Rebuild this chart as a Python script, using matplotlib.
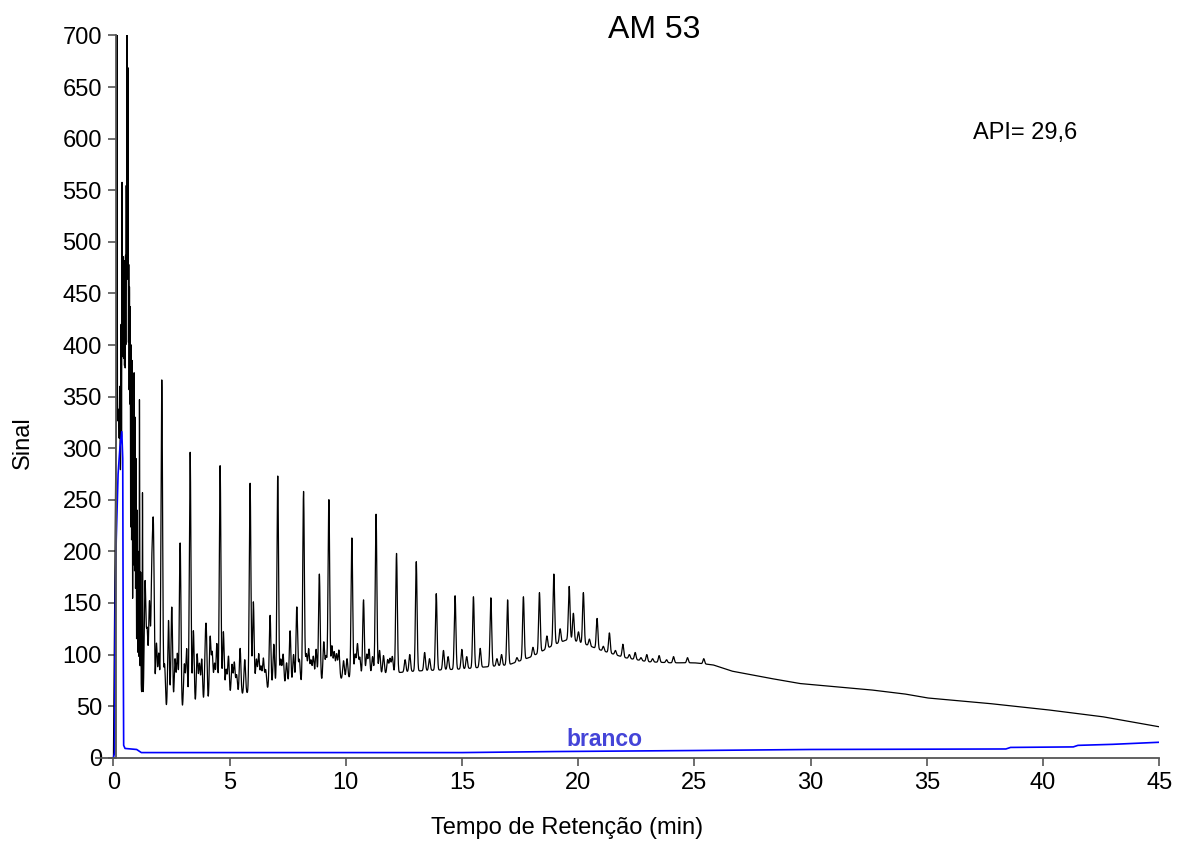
import numpy as np
import matplotlib
matplotlib.use('Agg')
import matplotlib.pyplot as plt

plt.rcParams['font.family'] = ['Liberation Sans', 'DejaVu Sans']

# baseline of the sample trace (min, signal)
base_t = [0.0, 0.04, 0.1, 0.2, 0.35, 0.5, 0.7, 0.9, 1.05, 1.3, 2.0, 3.0, 4.0, 5.0, 6.0, 7.0,
          8.0, 9.0, 10.0, 11.0, 12.0, 13.0, 14.0, 15.0, 16.0, 17.0, 18.0, 19.0, 19.6,
          20.3, 21.0, 22.0, 23.0, 24.0, 25.0, 25.8, 26.6, 28.0, 29.5, 31.0, 32.5, 34.0,
          35.0, 37.5, 40.0, 42.5, 45.0]
base_y = [0, 120, 300, 330, 250, 200, 160, 120, 90, 50, 45, 45, 50, 58, 64, 68,
          71, 74, 77, 80, 82, 84, 85, 86, 88, 90, 98, 110, 115,
          110, 104, 97, 93, 92, 92, 90, 84, 78, 72, 69, 66, 62,
          58, 53, 47, 40, 30]

# spikes of the solvent region
spike_t = [0.15, 0.22, 0.27, 0.33, 0.37, 0.40, 0.43, 0.46, 0.49, 0.52, 0.55, 0.58, 0.61,
           0.63, 0.66, 0.69, 0.72, 0.76, 0.80, 0.85, 0.89, 0.93, 0.97, 1.02, 1.07, 1.12,
           1.17, 1.25]
spike_y = [760, 337, 360, 420, 555, 470, 480, 476, 470, 480, 545, 760, 520,
           606, 470, 450, 434, 400, 385, 330, 373, 330, 290, 240, 200, 347,
           180, 256]

# n-alkane peaks
peak_t = [2.08, 3.30, 4.59, 5.88, 7.07, 8.18, 9.27, 10.26, 11.30, 12.18, 13.03, 13.89,
          14.70, 15.49, 16.24, 16.96, 17.64, 18.33, 18.95, 19.61, 20.22, 20.81, 21.34,
          21.92, 22.45, 22.95, 23.48, 24.10]
peak_y = [366, 296, 283, 266, 273, 258, 250, 213, 236, 198, 190, 159,
          157, 156, 155, 153, 156, 160, 178, 166, 160, 135, 121,
          110, 102, 100, 99, 98]

# smaller peaks between the alkanes
minor_t = [1.36, 1.45, 1.55, 1.65, 1.72, 1.85, 1.95, 2.2, 2.37, 2.51, 2.65, 2.75, 2.87,
           3.05, 3.15, 3.44, 3.6, 3.7, 3.8, 3.95, 4.0, 4.16, 4.25, 4.35, 4.45, 4.73,
           4.85, 4.95, 5.1, 5.2, 5.3, 5.45, 5.65, 6.02, 6.15, 6.25, 6.35, 6.45, 6.55,
           6.74, 6.9, 7.2, 7.3, 7.45, 7.6, 7.75, 7.89, 8.0, 8.3, 8.4, 8.5, 8.6, 8.72,
           8.86, 9.05, 9.15, 9.4, 9.5, 9.6, 9.7, 9.90, 10.05, 10.4, 10.5, 10.6, 10.76,
           10.9, 11.0, 11.15, 11.45, 11.62, 11.8, 11.9, 12.0, 12.55, 12.75, 13.39,
           13.6, 14.2, 14.4, 14.99, 15.2, 15.78, 16.5, 16.7, 17.36, 18.05, 18.65,
           19.22, 19.79, 20.01, 20.48, 21.08, 21.6, 22.2, 22.7, 23.2, 23.8, 24.7, 25.4]
minor_y = [169, 120, 149, 169, 212, 110, 100, 90, 133, 146, 95, 100, 208,
           90, 105, 123, 100, 90, 95, 95, 108, 116, 100, 90, 110, 122,
           85, 98, 90, 92, 80, 106, 95, 151, 95, 100, 88, 96, 85,
           138, 110, 95, 100, 92, 123, 100, 146, 95, 100, 105, 94, 98, 105,
           178, 112, 98, 108, 102, 100, 104, 94, 96, 100, 110, 97, 153,
           100, 105, 98, 104, 99, 95, 96, 98, 95, 100, 102,
           96, 104, 98, 105, 98, 106, 96, 100, 97, 107, 118,
           125, 140, 122, 115, 108, 104, 100, 97, 96, 95, 97, 96]

# blank run
blank_t = [0.0, 0.05, 0.07, 0.12, 0.2, 0.28, 0.36, 0.40, 0.42, 0.44, 0.5, 1.0, 1.2, 2.0,
           15.0, 19.0, 25.0, 30.0, 38.4, 38.6, 41.3, 41.5, 43.0, 44.0, 45.0]
blank_y = [0, 5, 130, 211, 275, 301, 316, 290, 120, 12, 9, 8, 5, 5,
           5, 6, 7, 8, 8.5, 10, 10.5, 12, 13, 14, 15]

t = np.linspace(0, 45, 18001)
base = np.interp(t, base_t, base_y)
signal = base.copy()
for tp, yp in zip(spike_t, spike_y):
    a = max(yp - np.interp(tp, base_t, base_y), 0)
    signal += a * np.exp(-0.5 * ((t - tp) / 0.010) ** 2)
for tp, yp in zip(peak_t, peak_y):
    a = max(yp - np.interp(tp, base_t, base_y), 0)
    signal += a * np.exp(-0.5 * ((t - tp) / 0.035) ** 2)
for tp, yp in zip(minor_t, minor_y):
    a = max(yp - np.interp(tp, base_t, base_y), 0)
    signal += a * np.exp(-0.5 * ((t - tp) / 0.035) ** 2)

fig = plt.figure(figsize=(11.78, 8.41), dpi=100)
ax = fig.add_axes([0.0815, 0.099, 0.9026, 0.8588])

ax.plot(t, signal, color='black', lw=0.9)
ax.plot(blank_t, blank_y, color='#0000ff', lw=1.2)

ax.set_xlim(-0.75, 45)
ax.set_ylim(0, 700)
ax.set_xticks(np.arange(0, 46, 5))
ax.set_yticks(np.arange(0, 701, 50))

for s in ['top', 'right']:
    ax.spines[s].set_visible(False)
ax.spines['left'].set_position(('data', 0.1))
for s in ['left', 'bottom']:
    ax.spines[s].set_color('#555555')
    ax.spines[s].set_linewidth(1.3)
ax.tick_params(axis='both', direction='out', length=6, width=1.2, color='#555555',
               labelsize=17, pad=4)

fig.text(654 / 1178, 1 - 30 / 841, 'AM 53', fontsize=23, ha='center', va='center')
fig.text(973 / 1178, 1 - 133 / 841, 'API= 29,6', fontsize=17, ha='left', va='center')
fig.text(23 / 1178, 1 - 443 / 841, 'Sinal', fontsize=17, rotation=90, ha='center', va='center')
fig.text(567 / 1178, 1 - 828 / 841, 'Tempo de Retenção (min)', fontsize=17,
         ha='center', va='center')
fig.text(604 / 1178, 1 - 740 / 841, 'branco', fontsize=16.5, fontweight='bold',
         color='#4444d8', ha='center', va='center')

fig.savefig('out.png', dpi=100)
